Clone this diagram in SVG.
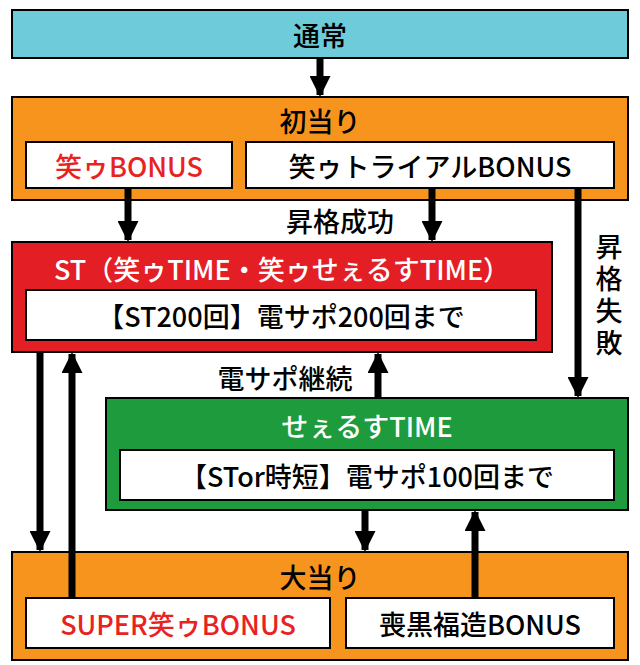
<svg xmlns="http://www.w3.org/2000/svg" width="640" height="665" viewBox="0 0 640 665">
<style>
.b{stroke:#000;stroke-width:2}
.w{fill:#fff;stroke:#000;stroke-width:2}
text{font-family:"Noto Sans CJK JP","Noto Sans",sans-serif;font-size:27px;font-weight:500;text-anchor:middle;dominant-baseline:central}
.r{fill:#e8231f}
.wt{fill:#fff}
.ln{stroke:#000;stroke-width:7;fill:none}
</style>
<defs><marker id="a" viewBox="0 0 10 10" refX="9" refY="5" markerWidth="3.4" markerHeight="3" orient="auto" markerUnits="strokeWidth"><path d="M0,0L10,5L0,10z"/></marker></defs>
<g id="n_tsujo"><rect class="b" x="12" y="10" width="616" height="48" fill="#6ecbd9"/><text x="320" y="34">通常</text></g>
<g id="n_hatsu"><rect class="b" x="12" y="97" width="616" height="103" fill="#f7941d"/><text x="320" y="120">初当り</text>
<rect class="w" x="26" y="142" width="206" height="46"/><text class="r" x="129" y="165">笑ゥBONUS</text>
<rect class="w" x="246" y="142" width="368" height="46"/><text x="430" y="165">笑ゥトライアルBONUS</text></g>
<g id="n_st"><rect class="b" x="12" y="242" width="540" height="110" fill="#e31e24"/><text class="wt" x="282" y="268">ST（笑ゥTIME・笑ゥせぇるすTIME）</text>
<rect class="w" x="26" y="290" width="510" height="50"/><text x="281" y="315">【ST200回】電サポ200回まで</text></g>
<g id="n_seerusu"><rect class="b" x="106" y="398" width="522" height="112" fill="#1e9b3c"/><text class="wt" x="367" y="425">せぇるすTIME</text>
<rect class="w" x="120" y="450" width="494" height="50"/><text x="367" y="475">【STor時短】電サポ100回まで</text></g>
<g id="n_oo"><rect class="b" x="12" y="552" width="616" height="108" fill="#f7941d"/><text x="320" y="576">大当り</text>
<rect class="w" x="26" y="598" width="304" height="50"/><text class="r" x="178" y="623">SUPER笑ゥBONUS</text>
<rect class="w" x="346" y="598" width="268" height="50"/><text x="480" y="623">喪黒福造BONUS</text></g>
<g id="connectors">
<line class="ln" x1="320" y1="58" x2="320" y2="95" marker-end="url(#a)"/>
<line class="ln" x1="128" y1="188" x2="128" y2="240" marker-end="url(#a)"/>
<line class="ln" x1="432" y1="188" x2="432" y2="240" marker-end="url(#a)"/>
<text x="340" y="220">昇格成功</text>
<line class="ln" x1="578" y1="188" x2="578" y2="396" marker-end="url(#a)"/>
<text x="609" y="297" style="writing-mode:vertical-rl;letter-spacing:5px;dominant-baseline:central">昇格失敗</text>
<line class="ln" x1="40" y1="352" x2="40" y2="550" marker-end="url(#a)"/>
<line class="ln" x1="72" y1="598" x2="72" y2="354" marker-end="url(#a)"/>
<line class="ln" x1="378" y1="398" x2="378" y2="354" marker-end="url(#a)"/>
<text x="285" y="377">電サポ継続</text>
<line class="ln" x1="365" y1="510" x2="365" y2="550" marker-end="url(#a)"/>
<line class="ln" x1="475" y1="598" x2="475" y2="512" marker-end="url(#a)"/>
</g>
</svg>
